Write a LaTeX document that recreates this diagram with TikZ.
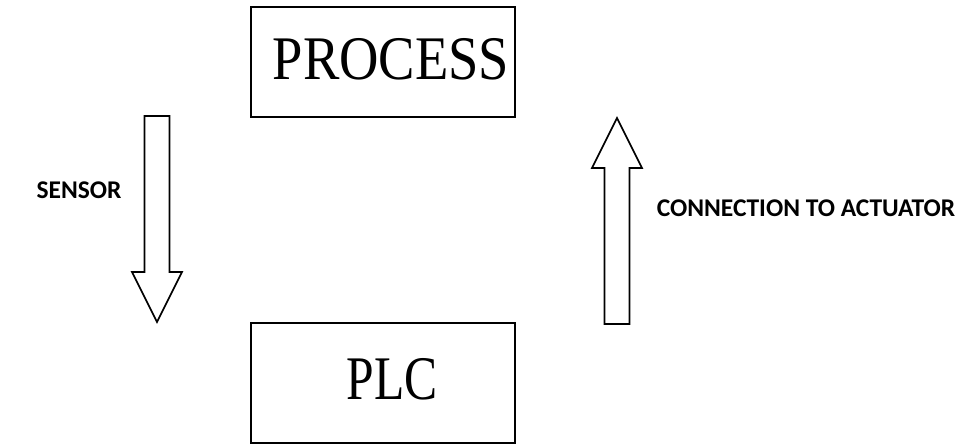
\documentclass[tikz,border=0pt]{standalone}
\usepackage{fontspec}
\setmainfont{Liberation Serif}
\newfontfamily\labelfont{Carlito}
\usetikzlibrary{positioning}
\tikzset{
    stagebox/.style={draw, line width=1.2pt, minimum width=264pt,
        font=\fontsize{62}{62}\selectfont},
    sidelabel/.style={font=\labelfont\bfseries\fontsize{25.5}{25.5}\selectfont},
    blockarrow/.pic={
        \draw[line width=1.6pt, line join=miter] (-12.5, 0) -- (-12.5, 156)
            -- (-25, 156) -- (0, 206) -- (25, 156) -- (12.5, 156)
            -- (12.5, 0) -- cycle;
    },
}

\begin{document}
\begin{tikzpicture}[x=1pt, y=1pt]
    \useasboundingbox (0, 0) rectangle (970, 445);
    \node[stagebox, minimum height=110pt] (process) at (383, 383)
        {\hspace{16pt}\raisebox{6pt}{\scalebox{0.88}[1]{PROCESS}}};
    \node[stagebox, minimum height=120pt] (plc) at (383, 62)
        {\hspace{18pt}\raisebox{9pt}{\scalebox{0.8}[1]{PLC}}};
    % sensor goes down, actuator goes up
    \pic[rotate=180] at (157, 329) {blockarrow};
    \pic at (617, 121) {blockarrow};
    \node[sidelabel] (sensor) at (79, 255) {SENSOR};
    \node[sidelabel] (actuator) at (806, 237) {CONNECTION TO ACTUATOR};
\end{tikzpicture}
\end{document}
